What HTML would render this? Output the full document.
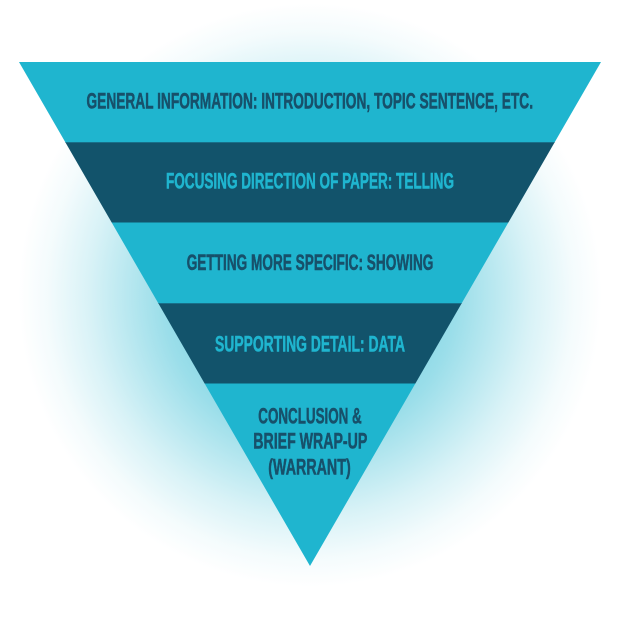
<!DOCTYPE html>
<html>
<head>
<meta charset="utf-8">
<style>
  html, body { margin: 0; padding: 0; background: #ffffff; }
  svg { display: block; }
  .t { font-family: "Liberation Sans Narrow", "Liberation Sans", sans-serif; font-weight: bold; font-size: 21.8px; stroke-width: 0.55px; paint-order: stroke; }
  .d { fill: #17506a; stroke: #17506a; }
  .l { fill: #1fb5cf; stroke: #1fb5cf; }
</style>
</head>
<body>
<svg width="620" height="620" viewBox="0 0 620 620" xmlns="http://www.w3.org/2000/svg">
  <defs>
    <radialGradient id="glow" cx="310" cy="295" r="292" gradientUnits="userSpaceOnUse">
      <stop offset="0" stop-color="#1fb5cf" stop-opacity="0.8"/>
      <stop offset="0.5" stop-color="#1fb5cf" stop-opacity="0.45"/>
      <stop offset="0.76" stop-color="#1fb5cf" stop-opacity="0.17"/>
      <stop offset="0.9" stop-color="#1fb5cf" stop-opacity="0.05"/>
      <stop offset="1" stop-color="#1fb5cf" stop-opacity="0"/>
    </radialGradient>
    <clipPath id="tri">
      <polygon points="19,62 601,62 310,566"/>
    </clipPath>
  </defs>
  <rect x="0" y="0" width="620" height="620" fill="#ffffff"/>
  <circle cx="310" cy="295" r="292" fill="url(#glow)"/>
  <g clip-path="url(#tri)">
    <rect x="0" y="62" width="620" height="80" fill="#1fb5cf"/>
    <rect x="0" y="142" width="620" height="80.5" fill="#12536b"/>
    <rect x="0" y="222.5" width="620" height="80.5" fill="#1fb5cf"/>
    <rect x="0" y="303" width="620" height="80.5" fill="#12536b"/>
    <rect x="0" y="383.5" width="620" height="190" fill="#1fb5cf"/>
    <line x1="0" y1="142.5" x2="620" y2="142.5" stroke="#18708a" stroke-width="1"/>
    <line x1="0" y1="303.5" x2="620" y2="303.5" stroke="#18708a" stroke-width="1"/>
  </g>
  <text class="t d" x="86.5" y="108.3" textLength="446.5" lengthAdjust="spacingAndGlyphs">GENERAL INFORMATION: INTRODUCTION, TOPIC SENTENCE, ETC.</text>
  <text class="t l" x="166" y="188.3" textLength="288" lengthAdjust="spacingAndGlyphs">FOCUSING DIRECTION OF PAPER: TELLING</text>
  <text class="t d" x="186.7" y="270" textLength="246.7" lengthAdjust="spacingAndGlyphs">GETTING MORE SPECIFIC: SHOWING</text>
  <text class="t l" x="215" y="351.7" textLength="190" lengthAdjust="spacingAndGlyphs">SUPPORTING DETAIL: DATA</text>
  <text class="t d" x="258.3" y="423.3" textLength="103.4" lengthAdjust="spacingAndGlyphs">CONCLUSION &amp;</text>
  <text class="t d" x="253.3" y="448.3" textLength="114" lengthAdjust="spacingAndGlyphs">BRIEF WRAP-UP</text>
  <text class="t d" x="268.3" y="474.3" textLength="82.4" lengthAdjust="spacingAndGlyphs">(WARRANT)</text>
</svg>
</body>
</html>
